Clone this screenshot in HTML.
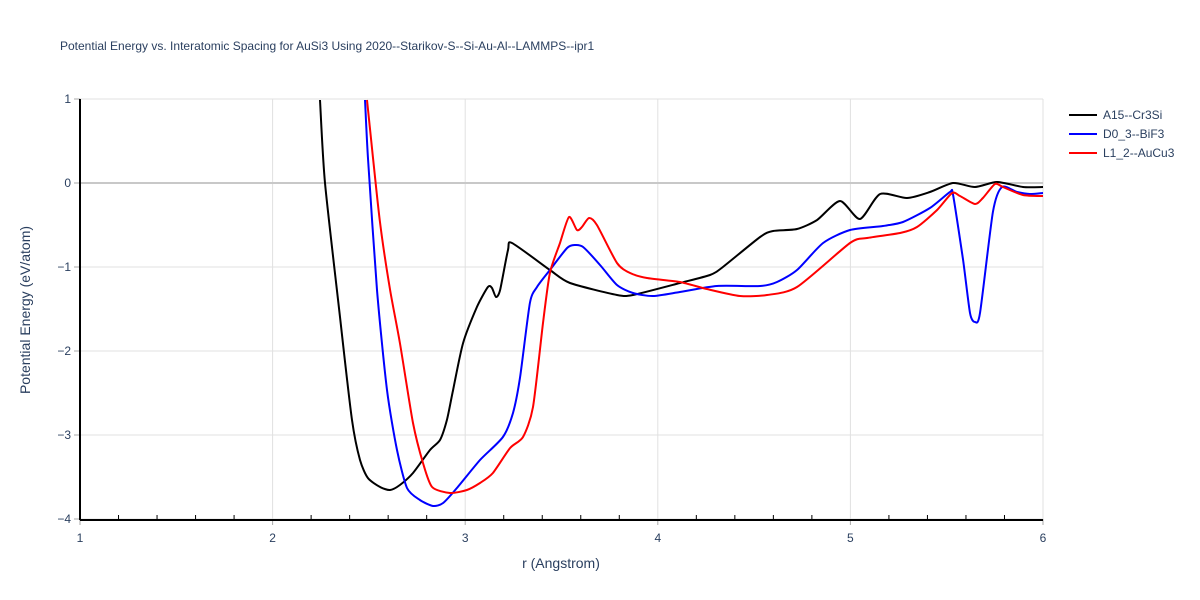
<!DOCTYPE html>
<html><head><meta charset="utf-8"><style>
body{margin:0;background:#fff;}
svg{display:block;font-family:"Liberation Sans",Arial,sans-serif;}
</style></head><body>
<svg id="chart" width="1200" height="600">
<text x="60" y="50" font-size="12" fill="#2a3f5f">Potential Energy vs. Interatomic Spacing for AuSi3 Using 2020--Starikov-S--Si-Au-Al--LAMMPS--ipr1</text>
<g id="grid"></g>
<g id="axes"></g>
<defs><clipPath id="clip"><rect x="80" y="99" width="963" height="421"/></clipPath></defs>
<g id="series" clip-path="url(#clip)"></g>
<text x="561" y="568" font-size="14" fill="#2a3f5f" text-anchor="middle">r (Angstrom)</text>
<text transform="translate(30,310) rotate(-90)" font-size="14" fill="#2a3f5f" text-anchor="middle">Potential Energy (eV/atom)</text>
<g id="legend"></g>
</svg>
<script>
const xTicks=[1,2,3,4,5,6];
const yTicks=[1,0,-1,-2,-3,-4];
const seriesNames=["A15--Cr3Si","D0_3--BiF3","L1_2--AuCu3"];
const seriesColors=["#000000","#0000ff","#ff0000"];
const a15R=[2.246,2.272,2.350,2.412,2.454,2.495,2.558,2.610,2.661,2.729,2.817,2.869,2.905,2.937,2.989,3.061,3.118,3.139,3.160,3.181,3.222,3.243,3.440,3.544,3.788,3.871,4.115,4.271,4.338,4.531,4.598,4.723,4.827,4.946,5.050,5.154,5.294,5.413,5.533,5.647,5.761,5.896,6.0];
const a15E=[0.988,0,-1.595,-2.821,-3.298,-3.512,-3.619,-3.655,-3.595,-3.452,-3.179,-3.060,-2.821,-2.464,-1.905,-1.476,-1.238,-1.250,-1.357,-1.274,-0.798,-0.714,-1.036,-1.190,-1.333,-1.333,-1.190,-1.095,-1.000,-0.643,-0.571,-0.548,-0.440,-0.214,-0.429,-0.131,-0.179,-0.107,0,-0.048,0.012,-0.048,-0.048];
const d03R=[2.480,2.495,2.542,2.594,2.646,2.698,2.765,2.833,2.885,2.957,3.077,3.196,3.248,3.285,3.336,3.373,3.440,3.529,3.570,3.612,3.700,3.788,3.871,3.975,4.115,4.307,4.531,4.619,4.723,4.858,4.998,5.169,5.273,5.413,5.517,5.533,5.585,5.621,5.647,5.673,5.740,5.787,5.865,5.932,6.0];
const d03E=[0.988,0.310,-1.274,-2.464,-3.179,-3.631,-3.774,-3.845,-3.810,-3.631,-3.298,-3.024,-2.738,-2.310,-1.429,-1.238,-1.036,-0.774,-0.738,-0.762,-0.976,-1.214,-1.310,-1.345,-1.298,-1.226,-1.226,-1.179,-1.036,-0.714,-0.560,-0.512,-0.464,-0.298,-0.107,-0.143,-0.917,-1.548,-1.655,-1.548,-0.345,-0.048,-0.107,-0.131,-0.119];
const l12R=[2.490,2.521,2.558,2.610,2.661,2.729,2.781,2.828,2.921,3.009,3.077,3.144,3.233,3.300,3.352,3.404,3.440,3.492,3.539,3.580,3.606,3.643,3.684,3.788,3.856,3.944,4.115,4.255,4.427,4.567,4.723,4.998,5.086,5.258,5.346,5.450,5.528,5.569,5.647,5.688,5.751,5.792,5.896,6.0];
const l12E=[0.988,0.310,-0.476,-1.274,-1.905,-2.857,-3.333,-3.619,-3.690,-3.655,-3.571,-3.452,-3.155,-3.024,-2.667,-1.667,-1.071,-0.714,-0.405,-0.560,-0.524,-0.417,-0.500,-0.952,-1.071,-1.131,-1.179,-1.262,-1.345,-1.333,-1.238,-0.714,-0.655,-0.595,-0.524,-0.321,-0.119,-0.155,-0.250,-0.179,-0.012,-0.048,-0.143,-0.155];

const NS="http://www.w3.org/2000/svg";
const X0=80,X1=1043,Y0=519,Y1=99,xmin=1,xmax=6,ymin=-4,ymax=1;
const sx=v=>X0+(v-xmin)/(xmax-xmin)*(X1-X0);
const sy=v=>Y0-(v-ymin)/(ymax-ymin)*(Y0-Y1);
function mk(tag,attrs,parent){const e=document.createElementNS(NS,tag);for(const k in attrs)e.setAttribute(k,attrs[k]);parent.appendChild(e);return e;}
function smoothPath(p){
  let d='M'+p[0][0].toFixed(1)+','+p[0][1].toFixed(1);
  const t=0.12;
  for(let i=0;i<p.length-1;i++){
    const p0=p[Math.max(0,i-1)],p1=p[i],p2=p[i+1],p3=p[Math.min(p.length-1,i+2)];
    const c1x=p1[0]+(p2[0]-p0[0])*t,c1y=p1[1]+(p2[1]-p0[1])*t;
    const c2x=p2[0]-(p3[0]-p1[0])*t,c2y=p2[1]-(p3[1]-p1[1])*t;
    d+=' C'+c1x.toFixed(1)+','+c1y.toFixed(1)+' '+c2x.toFixed(1)+','+c2y.toFixed(1)+' '+p2[0].toFixed(1)+','+p2[1].toFixed(1);
  }
  return d;
}
const grid=document.getElementById('grid'),axes=document.getElementById('axes'),ser=document.getElementById('series'),leg=document.getElementById('legend');
xTicks.forEach(t=>{
  const l=mk('line',{x1:sx(t),x2:sx(t),y1:Y1,y2:Y0,stroke:'#e0e0e0','stroke-width':1},grid);
  
  
  const tk=mk('line',{x1:sx(t),x2:sx(t),y1:Y0,y2:Y0+6,stroke:'#aaa','stroke-width':1},axes);
  
  
  const tx=mk('text',{x:sx(t),y:Y0+23,'font-size':12,fill:'#2a3f5f','text-anchor':'middle'},axes);
  tx.textContent=t;
  
  
});
for(let v=1.2;v<6;v+=0.2){
  if(Math.abs(v-Math.round(v))<0.01)continue;
  const m=mk('line',{x1:sx(v),x2:sx(v),y1:Y0,y2:Y0-4,stroke:'#000','stroke-width':1},axes);
  
  
}
yTicks.forEach(t=>{
  const l=mk('line',{x1:X0,x2:X1,y1:sy(t),y2:sy(t),stroke:t===0?'#c8c8c8':'#e0e0e0','stroke-width':t===0?2:1},grid);
  
  
  const tk=mk('line',{x1:X0-6,x2:X0,y1:sy(t),y2:sy(t),stroke:'#aaa','stroke-width':1},axes);
  
  
  const tx=mk('text',{x:X0-9,y:sy(t)+4,'font-size':12,fill:'#2a3f5f','text-anchor':'end'},axes);
  tx.textContent=t<0?'\u2212'+(-t):t;
  
  
});
const xa=mk('line',{x1:X0,x2:X1,y1:Y0+1,y2:Y0+1,stroke:'#000','stroke-width':2},axes);


const ya=mk('line',{x1:X0,x2:X0,y1:Y1,y2:Y0+1,stroke:'#000','stroke-width':2},axes);


const data=[[a15R,a15E],[d03R,d03E],[l12R,l12E]];
const keys=['a15','d03','l12'];
data.forEach((d,i)=>{
  const pts=d[0].map((r,j)=>[sx(r),sy(d[1][j])]);
  const p=mk('path',{d:smoothPath(pts),fill:'none',stroke:seriesColors[i],'stroke-width':2,'stroke-linejoin':'round'},ser);
  
  
  const g=mk('g',{},leg);
  
  
  const y=115+i*19;
  mk('line',{x1:1069,x2:1097,y1:y,y2:y,stroke:seriesColors[i],'stroke-width':2},g);
  const t=mk('text',{x:1103,y:y+4,'font-size':12,fill:'#2a3f5f'},g);
  t.textContent=seriesNames[i];
});
</script>
</body></html>
